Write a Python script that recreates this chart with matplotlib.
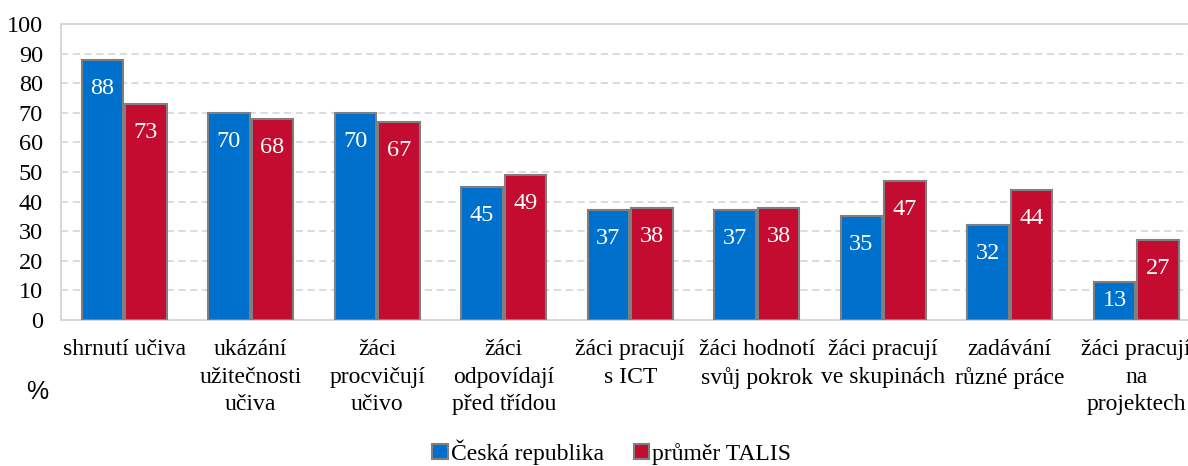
import matplotlib
matplotlib.use("Agg")
from matplotlib import pyplot as plt
from matplotlib.patches import Patch
import numpy as np

categories = ["shrnutí učiva",
              "ukázání\nužitečnosti\nučiva",
              "žáci\nprocvičují\nučivo",
              "žáci\nodpovídají\npřed třídou",
              "žáci pracují\ns ICT",
              "žáci hodnotí\nsvůj pokrok",
              "žáci pracují\nve skupinách",
              "zadávání\nrůzné práce",
              "žáci pracují\nna\nprojektech"]
cz_values = [88, 70, 70, 45, 37, 37, 35, 32, 13]
talis_values = [73, 68, 67, 49, 38, 38, 47, 44, 27]
series_names = ["Česká republika", "průměr TALIS"]

blue = "#0070CD"
red = "#C40C31"
edge = "#7f7f7f"

plt.rcParams['font.family'] = ['Liberation Serif', 'DejaVu Serif']

fig = plt.figure(figsize=(11.88, 4.66), dpi=100)
ax = fig.add_axes([61 / 1188, 146 / 466, 1138.5 / 1188, 296 / 466])

x = np.arange(len(categories))
w = 0.325
off = 0.172
b1 = ax.bar(x - off, cz_values, w, color=blue, edgecolor=edge, linewidth=1.5, zorder=3)
b2 = ax.bar(x + off, talis_values, w, color=red, edgecolor=edge, linewidth=1.5, zorder=3)

ax.set_xlim(-0.5, len(categories) - 0.5)
ax.set_ylim(0, 100)
ax.set_yticks(range(0, 101, 10))
ax.set_xticks(x)
ax.set_xticklabels(categories, fontsize=17, linespacing=1.4, va='top')
ax.tick_params(axis='both', length=0)
ax.tick_params(axis='y', pad=13, labelsize=17.5)
ax.tick_params(axis='x', pad=14)

ax.yaxis.grid(True, color="#d9d9d9", linestyle=(0, (4, 2.5)), linewidth=1.3, zorder=0)
for s in ['left', 'bottom', 'top']:
    ax.spines[s].set_color("#d9d9d9")
    ax.spines[s].set_linewidth(1.5)
ax.spines['right'].set_visible(False)

# value labels inside bars
px_per_unit = 296 / 100
for bars, vals in [(b1, cz_values), (b2, talis_values)]:
    for rect, v in zip(bars, vals):
        h_px = v * px_per_unit
        dy = min(28.5, h_px / 2)
        ax.annotate(str(v), xy=(rect.get_x() + rect.get_width() / 2, v),
                    xytext=(0, -dy), textcoords='offset pixels',
                    ha='center', va='center', color='white', fontsize=17.5, zorder=4)

fig.text(37 / 1188, 1 - 392 / 466, "%", fontsize=18, family=['Liberation Sans', 'DejaVu Sans'],
         ha='center', va='center')

handles = [Patch(facecolor=blue, edgecolor=edge, linewidth=1.5),
           Patch(facecolor=red, edgecolor=edge, linewidth=1.5)]
fig.legend(handles, series_names, loc='center', bbox_to_anchor=(0.515, 1 - 452 / 466),
           ncol=2, frameon=False, fontsize=17, handlelength=0.65, handleheight=0.65,
           handletextpad=0.15, columnspacing=1.25, borderaxespad=0)

plt.savefig("out.png", dpi=100)
plt.close()
